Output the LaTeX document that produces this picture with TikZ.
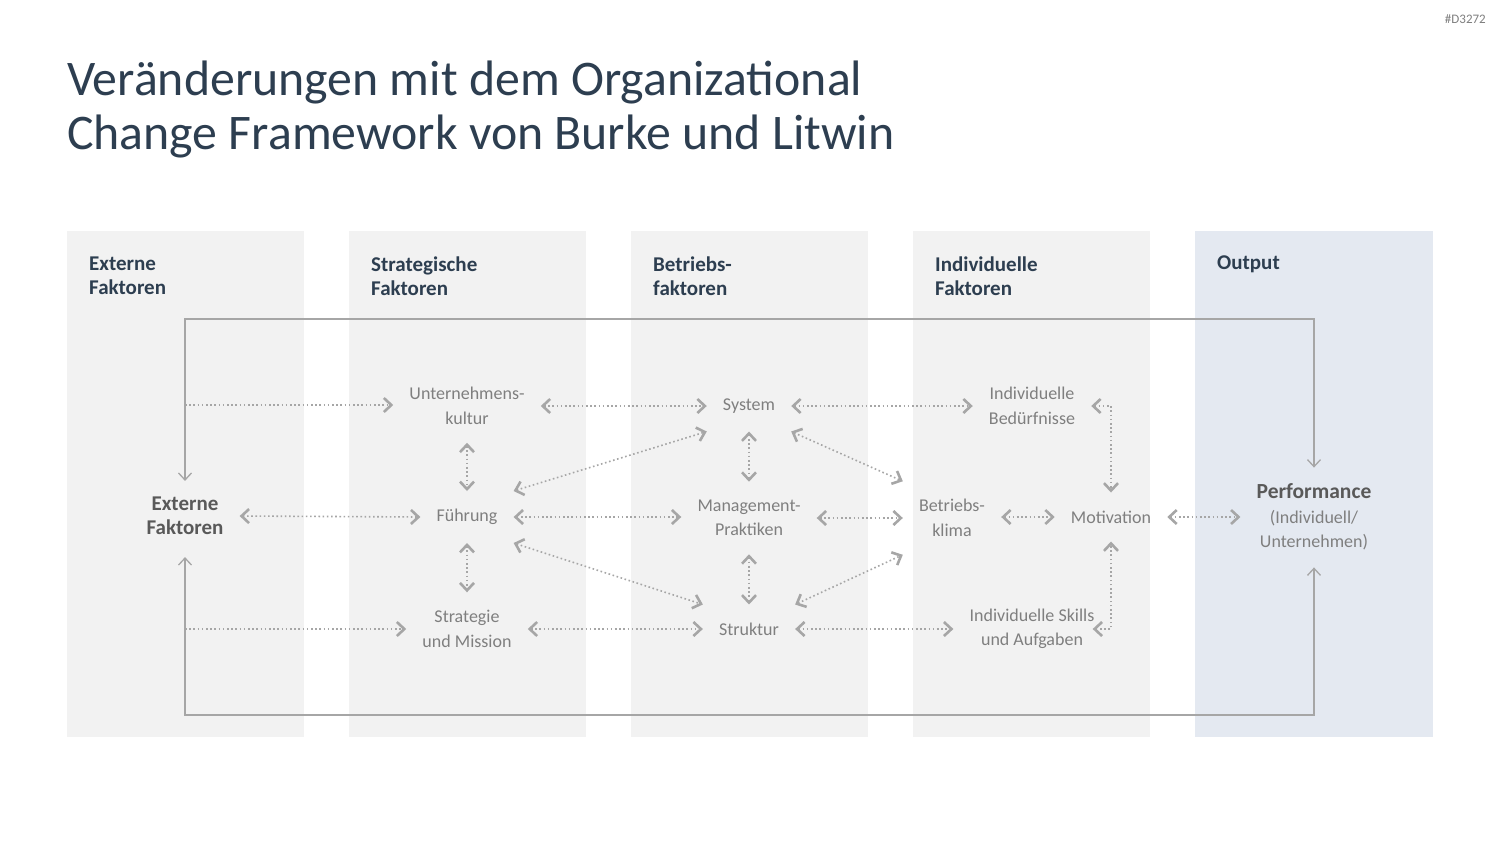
\documentclass[tikz,border=0pt]{standalone}
\usepackage{fontspec}
\setmainfont{Carlito}
\usetikzlibrary{arrows.meta}
\definecolor{colgray}{HTML}{F2F2F2}
\definecolor{colblue}{HTML}{E4E9F1}
\definecolor{titlec}{HTML}{2D3E50}
\definecolor{txtgray}{HTML}{7F7F7F}
\definecolor{boldgray}{HTML}{595959}
\definecolor{linegray}{HTML}{A6A6A6}
\tikzset{
  column/.style={fill=colgray, draw=none},
  outcol/.style={fill=colblue, draw=none},
  header/.style={anchor=west, align=left, inner sep=0pt, text=titlec,
    font=\fontsize{21}{24}\selectfont\bfseries},
  item/.style={align=center, text=txtgray, inner xsep=16pt, inner ysep=18pt,
    font=\fontsize{18}{24.5}\selectfont},
  bolditem/.style={align=center, text=boldgray, inner xsep=16pt, inner ysep=8pt,
    font=\fontsize{21}{24}\selectfont\bfseries},
  tipd/.tip={Straight Barb[length=7.5pt,width=14pt,line width=2.6pt]},
  dotarrow/.style={draw=linegray, line width=1.6pt, dash pattern=on 1.6pt off 2.6pt, tipd-tipd},
  dotone/.style={draw=linegray, line width=1.6pt, dash pattern=on 1.6pt off 2.6pt, -tipd},
  tipf/.tip={Straight Barb[length=7pt,width=13pt,line width=1.3pt]},
  feedback/.style={draw=linegray, line width=1.4pt, tipf-tipf}
}
\begin{document}
\begin{tikzpicture}[x=1pt,y=-1pt]
\useasboundingbox (0,0) rectangle (1500,844);
\fill[white] (0,0) rectangle (1500,844);
% watermark
\node[text=txtgray, font=\fontsize{13}{15}\selectfont, anchor=east, inner sep=0pt] (wm) at (1486,19) {\#D3272};
% title
\node[anchor=west, align=left, inner sep=0pt, text=titlec, font=\fontsize{49.8}{54}\selectfont] (title) at (67,109)
  {Veränderungen mit dem Organizational\\Change Framework von Burke und Litwin};
% columns
\path[column] (67,231) rectangle (304,737);
\path[column] (349,231) rectangle (586,737);
\path[column] (631,231) rectangle (868,737);
\path[column] (913,231) rectangle (1150,737);
\path[outcol] (1195,231) rectangle (1433,737);
% headers
\node[header] (h1) at (89,276) {Externe\\Faktoren};
\node[header] (h2) at (371,276) {Strategische\\Faktoren};
\node[header] (h3) at (653,276) {Betriebs-\\faktoren};
\node[header] (h4) at (935,276) {Individuelle\\Faktoren};
\node[header] (h5) at (1217,264) {Output};
% nodes
\node[bolditem] (ext) at (185,516) {Externe\\Faktoren};
\node[item] (kultur) at (467,406) {Unternehmens-\\kultur};
\node[item] (system) at (749,406) {System};
\node[item] (bed) at (1032,406) {Individuelle\\Bedürfnisse};
\node[item] (fuehr) at (467,517) {Führung};
\node[item] (mgmt) at (749,518) {Management-\\Praktiken};
\node[item] (klima) at (952,518) {Betriebs-\\klima};
\node[item] (motiv) at (1111,517) {Motivation};
\node[item, inner ysep=14pt] (perf) at (1314,517) {{\fontsize{21.5}{25}\selectfont\bfseries\color{boldgray}Performance}\\(Individuell/\\Unternehmen)};
\node[item] (strat) at (467,629) {Strategie\\und Mission};
\node[item] (strukt) at (749,629) {Struktur};
\node[item] (skills) at (1032,629) {Individuelle Skills\\und Aufgaben};
% feedback loop
\coordinate (topline) at (749,319);
\coordinate (botline) at (749,715);
\draw[feedback, shorten <=8pt, shorten >=2pt] (ext.north) |- (topline) -| (perf.north);
\draw[feedback, shorten <=14pt, shorten >=3pt] (ext.south) |- (botline) -| (perf.south);
% starts on feedback line
\coordinate (lk) at (185,405);
\coordinate (ls) at (185,629);
\draw[dotone] (lk) -- (kultur.west |- lk);
\draw[dotone] (ls) -- (strat.west);
% horizontal relations
\draw[dotarrow] (ext.east) -- (fuehr.west);
\draw[dotarrow] (kultur.east |- system) -- (system.west);
\draw[dotarrow] (system.east) -- (bed.west |- system);
\draw[dotarrow] (fuehr.east) -- (mgmt.west |- fuehr);
\draw[dotarrow] (mgmt.east) -- (klima.west);
\draw[dotarrow] (klima.east |- motiv) -- (motiv.west);
\draw[dotarrow] (motiv.east) -- (perf.west |- motiv);
\draw[dotarrow] (strat.east) -- (strukt.west);
\draw[dotarrow] (strukt.east) -- (skills.west);
% vertical relations
\draw[dotarrow] (kultur.south) -- (fuehr.north);
\draw[dotarrow] (fuehr.south) -- (strat.north);
\draw[dotarrow] (system.south) -- (mgmt.north);
\draw[dotarrow] (mgmt.south) -- (strukt.north);
% diagonal relations
\draw[dotarrow] (fuehr.north east) -- (system.south west);
\draw[dotarrow] (fuehr.south east) -- (strukt.north west);
\draw[dotarrow] (system.south east) -- (klima.north west);
\draw[dotarrow] (strukt.north east) -- (klima.south west);
% elbows to motivation
\draw[dotarrow] (bed.east) -| (motiv.north);
\draw[dotarrow] ([xshift=-18pt]skills.east) -| (motiv.south);
\end{tikzpicture}
\end{document}
